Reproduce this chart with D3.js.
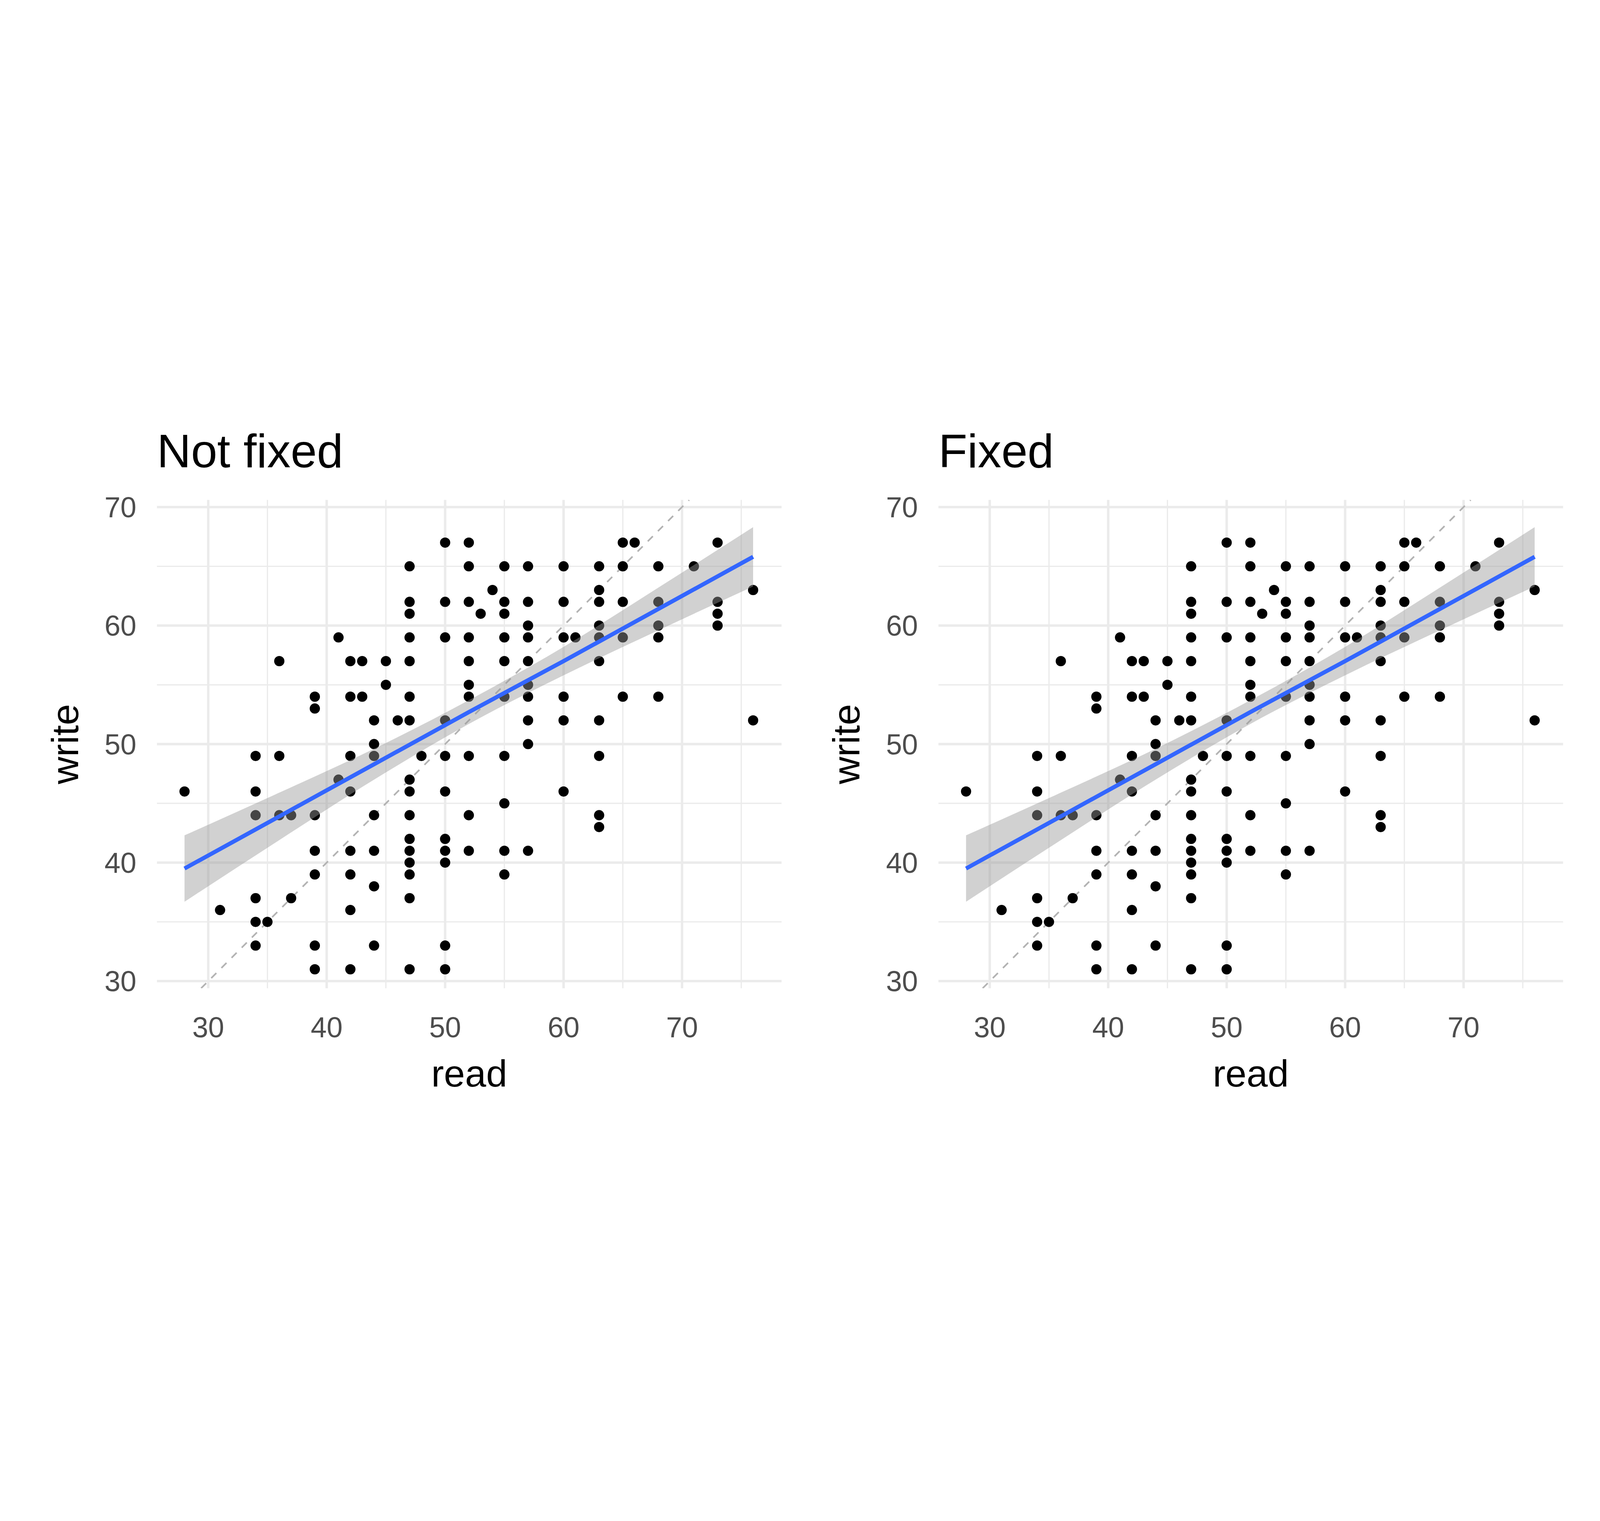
<!DOCTYPE html>
<html><head><meta charset="utf-8">
<script src="https://cdn.jsdelivr.net/npm/d3@7"></script>
<style>html,body{margin:0;background:#fff;width:100%;height:100%;overflow:hidden}svg{display:block;width:100vw;height:100vh}</style></head>
<body><svg id="c" viewBox="0 0 1560 964" preserveAspectRatio="xMidYMid meet"></svg>
<script>
const readVals=[28,31,34,34,34,34,34,34,35,36,36,36,37,37,39,39,39,39,39,39,39,41,41,42,42,42,42,42,42,42,42,43,43,44,44,44,44,44,44,44,45,45,46,47,47,47,47,47,47,47,47,47,47,47,47,47,47,47,47,48,50,50,50,50,50,50,50,50,50,50,50,52,52,52,52,52,52,52,52,52,52,53,54,55,55,55,55,55,55,55,55,55,55,57,57,57,57,57,57,57,57,57,57,60,60,60,60,60,60,61,63,63,63,63,63,63,63,63,63,63,65,65,65,65,65,66,68,68,68,68,68,71,73,73,73,73,76,76];
const writeVals=[46,36,49,46,44,37,35,33,35,57,49,44,44,37,54,53,44,41,39,33,31,59,47,57,54,49,46,41,39,36,31,57,54,52,50,49,44,41,38,33,57,55,52,65,62,61,59,57,54,52,47,46,44,42,41,40,39,37,31,49,67,62,59,52,49,46,42,41,40,33,31,67,65,62,59,57,55,54,49,44,41,61,63,65,62,61,59,57,54,49,45,41,39,65,62,60,59,57,55,54,52,50,41,65,62,59,54,52,46,59,65,63,62,60,59,57,52,49,44,43,67,65,62,59,54,67,65,62,60,59,54,65,67,62,61,60,63,52];
const fitX=[28,36,44,52,60,68,76];
const fitY=[39.5,43.9,48.3,52.7,57.0,61.4,65.8];
const fitLo=[36.7,41.9,47.0,51.7,55.8,59.6,63.3];
const fitHi=[42.3,45.9,49.6,53.7,58.2,63.2,68.3];
const xTicks=[30,40,50,60,70], yTicks=[30,40,50,60,70];
const titles=["Not fixed","Fixed"];

const svg=d3.select("#c").append("g");
const font="Liberation Sans, Arial, sans-serif";
const panels=[153,915];
titles.forEach((t,i)=>{
  const x0=panels[i], x1=x0+609, y0=228, y1=704;
  const x=d3.scaleLinear().domain([25.67,78.4]).range([x0,x1]);
  const y=d3.scaleLinear().domain([29.4,70.6]).range([y1,y0]);
  const g=svg.append("g");
  const clipId="cl"+i;
  g.append("clipPath").attr("id",clipId).append("rect").attr("x",x0).attr("y",y0).attr("width",x1-x0).attr("height",y1-y0);
  [35,45,55,65,75].forEach(v=>g.append("line").attr("x1",x(v)).attr("x2",x(v)).attr("y1",y0).attr("y2",y1).attr("stroke","#ebebeb").attr("stroke-width",1.2));
  [35,45,55,65].forEach(v=>g.append("line").attr("y1",y(v)).attr("y2",y(v)).attr("x1",x0).attr("x2",x1).attr("stroke","#ebebeb").attr("stroke-width",1.2));
  xTicks.forEach(v=>g.append("line").attr("x1",x(v)).attr("x2",x(v)).attr("y1",y0).attr("y2",y1).attr("stroke","#ebebeb").attr("stroke-width",2.4));
  yTicks.forEach(v=>g.append("line").attr("y1",y(v)).attr("y2",y(v)).attr("x1",x0).attr("x2",x1).attr("stroke","#ebebeb").attr("stroke-width",2.4));
  const cg=g.append("g").attr("clip-path",`url(#${clipId})`);
  cg.append("line").attr("x1",x(29.4)).attr("y1",y(29.4)).attr("x2",x(70.6)).attr("y2",y(70.6)).attr("stroke","#b3b3b3").attr("stroke-width",1.6).attr("stroke-dasharray","7,7");
  cg.selectAll("circle").data(readVals).join("circle").attr("cx",d=>x(d)).attr("cy",(d,j)=>y(writeVals[j])).attr("r",5).attr("fill","#000");
  const area=d3.area().x((d,j)=>x(fitX[j])).y0((d,j)=>y(fitLo[j])).y1((d,j)=>y(fitHi[j])).curve(d3.curveMonotoneX);
  cg.append("path").attr("d",area(fitX)).attr("fill","#999").attr("opacity",0.45);
  cg.append("path").attr("d",d3.line().x((d,j)=>x(fitX[j])).y((d,j)=>y(fitY[j]))(fitX)).attr("fill","none").attr("stroke","#3366FF").attr("stroke-width",4);
  xTicks.forEach(v=>g.append("text").attr("x",x(v)).attr("y",752).attr("text-anchor","middle").attr("font-family",font).attr("font-size",28).attr("fill","#4d4d4d").text(v));
  yTicks.forEach(v=>g.append("text").attr("x",x0-20).attr("y",y(v)+10).attr("text-anchor","end").attr("font-family",font).attr("font-size",28).attr("fill","#4d4d4d").text(v));
  g.append("text").attr("x",(x0+x1)/2).attr("y",800).attr("text-anchor","middle").attr("font-family",font).attr("font-size",37).text("read");
  g.append("text").attr("transform",`translate(${x0-77},466) rotate(-90)`).attr("text-anchor","middle").attr("font-family",font).attr("font-size",37).text("write");
  g.append("text").attr("x",x0).attr("y",196).attr("font-family",font).attr("font-size",46).text(t);
});
</script></body></html>
